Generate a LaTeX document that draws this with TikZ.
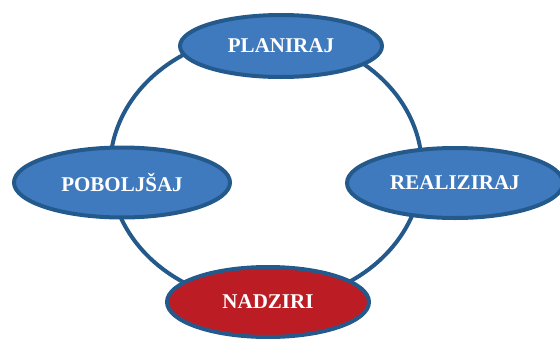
\documentclass[tikz,border=0pt]{standalone}
\usepackage{fontspec}
\setmainfont{Liberation Serif}
\usetikzlibrary{shapes.geometric}
\definecolor{ringblue}{RGB}{36,89,140}
\definecolor{fillblue}{RGB}{64,122,190}
\definecolor{fillred}{RGB}{188,29,36}
\tikzset{
  phase/.style={ellipse, draw=ringblue, line width=4pt, fill=fillblue, inner sep=0pt,
    text=white, font=\fontsize{21}{23}\selectfont\bfseries},
  ring/.style={draw=ringblue, line width=4pt}
}
\begin{document}
\begin{tikzpicture}[x=1pt,y=-1pt]
\useasboundingbox (0,0) rectangle (560,338);
\draw[ring] (266,168.5) ellipse [x radius=156, y radius=134];
\node[phase, minimum width=202pt, minimum height=62pt] (plan) at (281,46) {PLANIRAJ};
\node[phase, minimum width=216pt, minimum height=70pt] (pob) at (122,182.5) {POBOLJŠAJ};
\node[phase, minimum width=216pt, minimum height=70pt] (real) at (455,183) {REALIZIRAJ};
\node[phase, fill=fillred, minimum width=202pt, minimum height=70pt] (nad) at (268,302) {NADZIRI};
\end{tikzpicture}
\end{document}
